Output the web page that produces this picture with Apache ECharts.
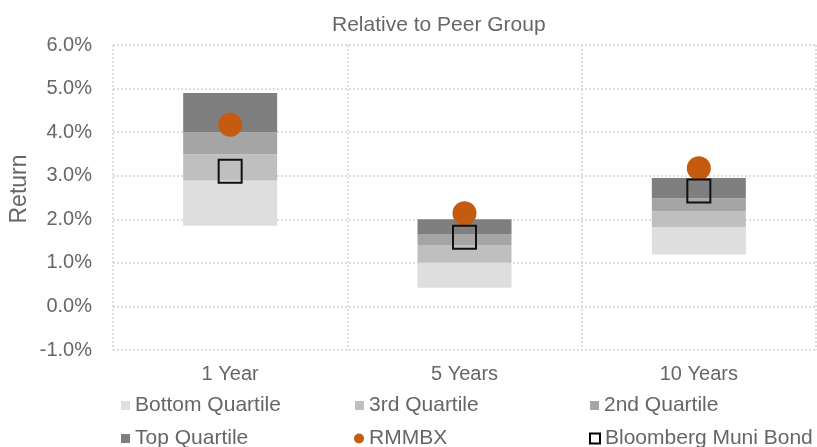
<!DOCTYPE html>
<html>
<head>
<meta charset="utf-8">
<script src="https://cdn.jsdelivr.net/npm/echarts@6/dist/echarts.min.js"></script>
<style>
    html, body { margin: 0; padding: 0; background: #fff; }
    #chart { width: 817px; height: 447px; }
</style>
</head>
<body>
<div id="chart"></div>
<script>
    // periods
    var categories = ['1 Year', '5 Years', '10 Years'];
    // peer group quartile boundaries (%)
    var peerLow = [1.85, 0.43, 1.19];      // bottom of the range
    var peerQ1 = [2.89, 1.00, 1.82];       // top of bottom quartile
    var peerMedian = [3.49, 1.41, 2.18];   // top of 3rd quartile
    var peerQ3 = [4.00, 1.66, 2.48];       // top of 2nd quartile
    var peerHigh = [4.90, 2.00, 2.95];     // top of top quartile
    // fund and benchmark
    var rmmbx = [4.17, 2.14, 3.17];
    var bloomberg = [3.10, 1.59, 2.65];
    // y axis ticks
    var yMin = -1, yMax = 6, yStep = 1;

    function diff(a, b) {
        return a.map(function (v, i) { return +(v - b[i]).toFixed(2); });
    }

    var textColor = '#666666';
    var fontFamily = '"Liberation Sans", Arial, sans-serif';
    var gridLine = { type: [2, 2], color: '#d4d4d4', width: 1.5 };

    var chart = echarts.init(document.getElementById('chart'));

    function legendAt(name, left, top, icon, w, h, style) {
        var l = {
            data: [name],
            left: left,
            top: top,
            padding: 0,
            icon: icon,
            itemWidth: w,
            itemHeight: h,
            itemGap: 5,
            textStyle: { color: textColor, fontSize: 21, fontFamily: fontFamily, padding: [0, 0, 0, 0] }
        };
        if (style) l.itemStyle = style;
        return l;
    }

    chart.setOption({
        animation: false,
        title: {
            text: 'Relative to Peer Group',
            left: 327,
            top: 10,
            textStyle: { color: textColor, fontSize: 21, fontWeight: 'normal', fontFamily: fontFamily }
        },
        // rotated axis title, placed like the original
        graphic: [{
            type: 'text',
            x: 8,
            y: 189,
            rotation: Math.PI / 2,
            style: {
                text: 'Return',
                fill: textColor,
                font: '23px ' + fontFamily,
                align: 'center',
                verticalAlign: 'top'
            }
        }],
        legend: [
            legendAt('Bottom Quartile', 121, 395, 'rect', 9, 9),
            legendAt('3rd Quartile', 355, 395, 'rect', 9, 9),
            legendAt('2nd Quartile', 590, 395, 'rect', 9, 9),
            legendAt('Top Quartile', 121, 428, 'rect', 9, 9),
            legendAt('RMMBX', 354, 428, 'circle', 10, 10),
            legendAt('Bloomberg Muni Bond', 589, 428, 'rect', 10, 10,
                { color: '#ffffff', borderColor: '#000000', borderWidth: 2 })
        ],
        grid: {
            left: 113,
            right: 1,
            top: 45,
            bottom: 97
        },
        xAxis: {
            type: 'category',
            data: categories,
            axisLine: { show: false },
            axisTick: { show: false },
            axisLabel: { color: textColor, fontSize: 20, fontFamily: fontFamily, margin: 14 },
            splitLine: { show: true, lineStyle: gridLine }
        },
        yAxis: {
            type: 'value',
            min: yMin,
            max: yMax,
            interval: yStep,
            axisLine: { show: false },
            axisTick: { show: false },
            axisLabel: {
                color: textColor, fontSize: 20, fontFamily: fontFamily, margin: 21,
                formatter: function (v) { return v.toFixed(1) + '%'; }
            },
            splitLine: { show: true, lineStyle: gridLine }
        },
        series: [
            {
                name: 'base',
                type: 'bar',
                stack: 'peer',
                barWidth: 94,
                itemStyle: { color: 'transparent' },
                data: peerLow
            },
            {
                name: 'Bottom Quartile',
                type: 'bar',
                stack: 'peer',
                itemStyle: { color: '#dedede' },
                data: diff(peerQ1, peerLow)
            },
            {
                name: '3rd Quartile',
                type: 'bar',
                stack: 'peer',
                itemStyle: { color: '#bfbfbf' },
                data: diff(peerMedian, peerQ1)
            },
            {
                name: '2nd Quartile',
                type: 'bar',
                stack: 'peer',
                itemStyle: { color: '#a5a5a5' },
                data: diff(peerQ3, peerMedian)
            },
            {
                name: 'Top Quartile',
                type: 'bar',
                stack: 'peer',
                itemStyle: { color: '#7f7f7f' },
                data: diff(peerHigh, peerQ3)
            },
            {
                name: 'RMMBX',
                type: 'scatter',
                symbol: 'circle',
                symbolSize: 24,
                itemStyle: { color: '#c55a11', opacity: 1 },
                data: rmmbx
            },
            {
                name: 'Bloomberg Muni Bond',
                type: 'scatter',
                symbol: 'rect',
                symbolSize: 23,
                itemStyle: { color: 'transparent', borderColor: '#111111', borderWidth: 2, opacity: 1 },
                data: bloomberg
            }
        ]
    });
</script>
</body>
</html>
